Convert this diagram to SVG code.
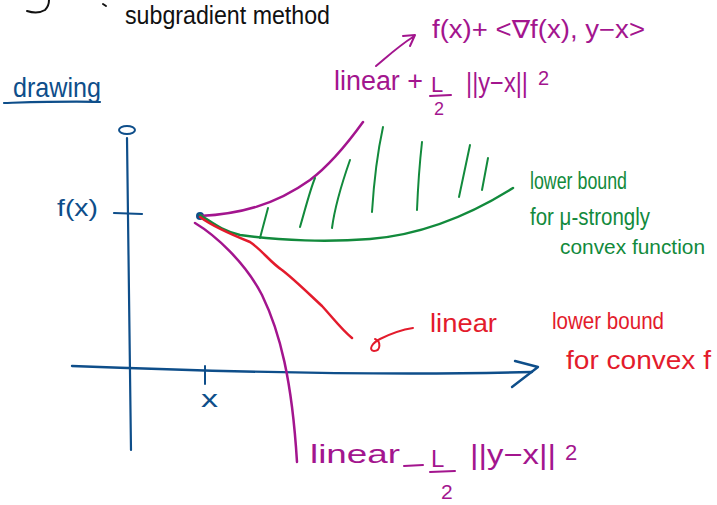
<svg xmlns="http://www.w3.org/2000/svg" width="717" height="505" viewBox="0 0 717 505">
<style>
.s{fill:none;stroke-linecap:round;stroke-linejoin:round}
.k{stroke:#111}
.b{stroke:#0e4e8a}
.p{stroke:#a3158e}
.g{stroke:#128a3c}
.r{stroke:#e31b2c}
.t{font-family:"Liberation Sans","DejaVu Sans",sans-serif}
.tk{fill:#111}.tb{fill:#0e4e8a}.tp{fill:#a3158e}.tg{fill:#128a3c}.tr{fill:#e31b2c}
</style>
<rect width="717" height="505" fill="#fff"/>
<g id="header">
<path class="s k" stroke-width="2" d="M27,11 C33,13 40,13 45,10 C48,7 49,3 49,0"/>
<path class="s k" stroke-width="2" d="M103,4 L106,6"/>
<text class="t tk" x="125" y="24" font-size="25" textLength="205" lengthAdjust="spacingAndGlyphs">subgradient method</text>
</g>
<g id="title">
<text class="t tb" x="13" y="97" font-size="28" textLength="88" lengthAdjust="spacingAndGlyphs">drawing</text>
<path class="s b" stroke-width="2.2" d="M4,103 C40,102 70,101 100,102"/>
</g>
<g id="axes">
<path class="s b" stroke-width="2.2" d="M127,138 C128,250 130,350 131,450"/>
<ellipse class="s b" stroke-width="2" cx="127" cy="130" rx="8" ry="4"/>
<path class="s b" stroke-width="2.2" d="M114,213 L142,214"/>
<text class="t tb" x="57" y="216" font-size="24" textLength="41" lengthAdjust="spacingAndGlyphs">f(x)</text>
<path class="s b" stroke-width="2.4" d="M72,366 C200,371 380,376 532,372"/>
<path class="s b" stroke-width="2.4" d="M515,361 L538,367 L512,387"/>
<path class="s b" stroke-width="2" d="M205,366 L205,384"/>
<text class="t tb" x="201" y="407" font-size="24" textLength="17" lengthAdjust="spacingAndGlyphs">x</text>
<circle cx="200" cy="216" r="4" fill="#0e4e8a"/>
</g>
<g id="upper-bound">
<path class="s p" stroke-width="2.5" d="M200,216 C240,214 275,205 310,180 C330,165 350,140 363,122"/>
<path class="s p" stroke-width="2" d="M376,66 C388,56 400,45 413,37 M403,36 L415,35 L410,46"/>
<text class="t tp" x="432" y="38" font-size="25" textLength="213" lengthAdjust="spacingAndGlyphs">f(x)+ &lt;∇f(x), y−x&gt;</text>
<text class="t tp" x="334" y="90" font-size="27" textLength="89" lengthAdjust="spacingAndGlyphs">linear +</text>
<text class="t tp" x="431" y="92" font-size="22">L</text>
<path class="s p" stroke-width="2" d="M430,96 L451,95"/>
<text class="t tp" x="434" y="115" font-size="18">2</text>
<text class="t tp" x="466" y="92" font-size="27" textLength="62" lengthAdjust="spacingAndGlyphs">||y−x||</text>
<text class="t tp" x="538" y="85" font-size="20">2</text>
</g>
<g id="strong-lower-bound">
<path class="s g" stroke-width="2.5" d="M200,215 C212,222 220,230 240,235 C280,241 330,242 370,239 C420,235 470,215 513,188"/>
<path class="s g" stroke-width="2" d="M260,238 L268,208 M300,227 C305,210 310,190 315,178 M332,228 C335,205 343,180 350,160 M372,212 C374,180 378,150 383,127 M417,210 C418,185 420,160 422,142 M459,197 L470,145 M482,190 L488,158"/>
<text class="t tg" x="530" y="189" font-size="23" textLength="97" lengthAdjust="spacingAndGlyphs">lower bound</text>
<text class="t tg" x="530" y="225" font-size="23" textLength="120" lengthAdjust="spacingAndGlyphs">for μ-strongly</text>
<text class="t tg" x="560" y="254" font-size="21" textLength="145" lengthAdjust="spacingAndGlyphs">convex function</text>
</g>
<g id="convex-lower-bound">
<path class="s r" stroke-width="2.5" d="M200,217 C215,228 235,236 250,242 C262,250 270,262 282,270 C295,280 310,295 322,306 C333,318 342,330 352,338"/>
<path class="s r" stroke-width="2" d="M413,328 C400,330 388,335 380,339 C372,343 368,350 374,351 C381,351 381,341 375,339"/>
<text class="t tr" x="430" y="332" font-size="26" textLength="67" lengthAdjust="spacingAndGlyphs">linear</text>
<text class="t tr" x="552" y="329" font-size="24" textLength="112" lengthAdjust="spacingAndGlyphs">lower bound</text>
<text class="t tr" x="566" y="369" font-size="26" textLength="145" lengthAdjust="spacingAndGlyphs">for convex f</text>
</g>
<g id="smooth-lower-bound">
<path class="s p" stroke-width="2.5" d="M195,223 C215,235 245,262 262,295 C280,332 292,380 297,462"/>
<text class="t tp" x="310" y="463" font-size="26" textLength="90" lengthAdjust="spacingAndGlyphs">linear</text>
<path class="s p" stroke-width="2" d="M404,466 L423,465"/>
<text class="t tp" x="431" y="467" font-size="24">L</text>
<path class="s p" stroke-width="2" d="M430,472 L455,471"/>
<text class="t tp" x="441" y="499" font-size="21">2</text>
<text class="t tp" x="470" y="464" font-size="28" textLength="86" lengthAdjust="spacingAndGlyphs">||y−x||</text>
<text class="t tp" x="565" y="460" font-size="22">2</text>
</g>
</svg>
